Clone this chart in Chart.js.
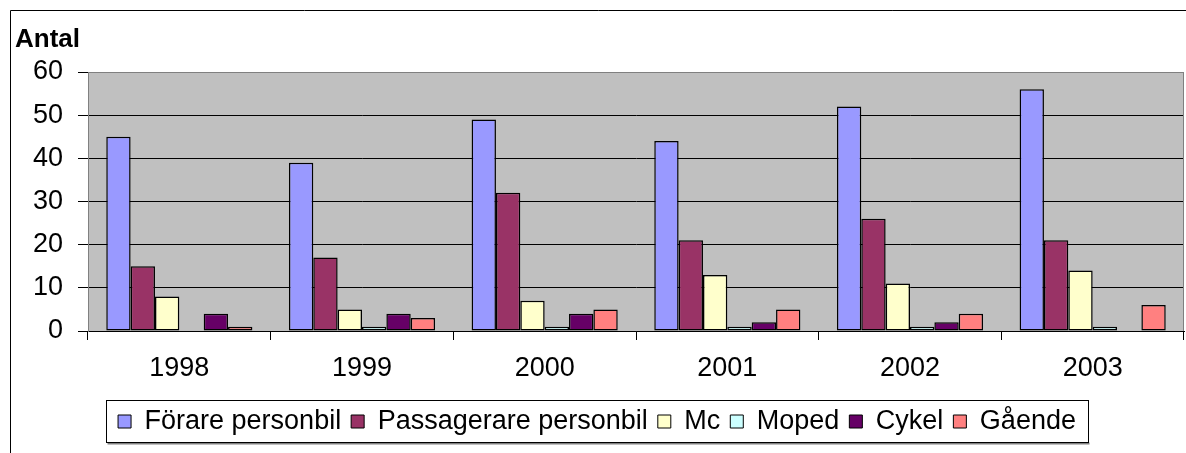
<!DOCTYPE html>
<html>
<head>
<meta charset="utf-8">
<script src="https://cdn.jsdelivr.net/npm/chart.js@4.4.1/dist/chart.umd.min.js"></script>
<style>
  html, body { margin: 0; padding: 0; background: #fff; }
  #wrap { width: 1186px; height: 453px; }
</style>
</head>
<body>
<div id="wrap"><canvas id="chart" width="1186" height="453"></canvas></div>
<script>
// ---- data ----
const years = ['1998', '1999', '2000', '2001', '2002', '2003'];
const forarePersonbil = [45, 39, 49, 44, 52, 56];
const passagerarePersonbil = [15, 17, 32, 21, 26, 21];
const mc = [8, 5, 7, 13, 11, 14];
const moped = [0, 1, 1, 1, 1, 1];
const cykel = [4, 4, 4, 2, 2, 0];
const gaende = [1, 3, 5, 5, 4, 6];
const yTicks = [0, 10, 20, 30, 40, 50, 60];

const FONT = "'Liberation Sans', Arial, sans-serif";
Chart.defaults.font.family = FONT;
Chart.defaults.color = '#000';

// bakgrund, ram och "Antal"
const frame = {
  id: 'frame',
  beforeDraw(chart) {
    const c = chart.ctx, a = chart.chartArea;
    c.save();
    c.fillStyle = '#fff';
    c.fillRect(0, 0, chart.width, chart.height);
    c.strokeStyle = '#000';
    c.lineWidth = 1;
    c.beginPath();
    c.moveTo(10.5, chart.height + 2);
    c.lineTo(10.5, 10.5);
    c.lineTo(chart.width + 2, 10.5);
    c.stroke();
    c.fillStyle = '#C0C0C0';
    c.fillRect(a.left, a.top, a.right - a.left, a.bottom - a.top);
    c.fillStyle = '#000';
    c.font = 'bold 26px ' + FONT;
    c.textBaseline = 'alphabetic';
    c.fillText('Antal', 15, 47);
    c.restore();
  },
  afterDraw(chart) {
    const c = chart.ctx, a = chart.chartArea;
    c.save();
    c.strokeStyle = '#808080';
    c.lineWidth = 1;
    c.beginPath();
    c.moveTo(a.left, Math.round(a.top) + 0.5);
    c.lineTo(Math.round(a.right) - 0.5, Math.round(a.top) + 0.5);
    c.lineTo(Math.round(a.right) - 0.5, a.bottom);
    c.stroke();
    // ram runt förklaringen
    const hb = chart.legend.legendHitBoxes;
    if (hb && hb.length) {
      const first = hb[0], last = hb[hb.length - 1];
      const x1 = Math.round(first.left - 12) + 0.5;
      const x2 = Math.round(last.left + last.width + 12) + 0.5;
      const y1 = Math.round(first.top - 8) + 0.5;
      const y2 = Math.round(first.top + first.height + 7) + 0.5;
      c.fillStyle = '#808080';
      c.fillRect(x1 + 1, y2, x2 - x1, 2);
      c.strokeStyle = '#000';
      c.strokeRect(x1, y1, x2 - x1, y2 - y1);
    }
    c.restore();
  }
};

const ds = (label, data, color) => ({
  label, data,
  backgroundColor: color,
  borderColor: '#000',
  borderWidth: 1.5,
  borderSkipped: false,
  categoryPercentage: 0.8,
  barPercentage: 1.0
});

new Chart(document.getElementById('chart'), {
  type: 'bar',
  data: {
    labels: years,
    datasets: [
      ds('Förare personbil', forarePersonbil, '#9999FF'),
      ds('Passagerare personbil', passagerarePersonbil, '#993366'),
      ds('Mc', mc, '#FFFFCC'),
      ds('Moped', moped, '#CCFFFF'),
      ds('Cykel', cykel, '#660066'),
      ds('Gående', gaende, '#FF8080')
    ]
  },
  options: {
    responsive: false,
    animation: false,
    layout: { padding: { left: 10, right: 2, top: 72, bottom: 8 } },
    plugins: {
      title: { display: false },
      tooltip: { enabled: false },
      legend: {
        position: 'bottom',
        labels: {
          font: { size: 27 },
          color: '#000',
          boxWidth: 13,
          boxHeight: 13,
          padding: 10,
          generateLabels: chart => Chart.defaults.plugins.legend.labels.generateLabels(chart)
            .map(l => Object.assign(l, { lineWidth: 1 }))
        }
      }
    },
    scales: {
      x: {
        grid: {
          offset: true,
          drawOnChartArea: false,
          drawTicks: true,
          tickLength: 9,
          color: '#000'
        },
        border: { color: '#000' },
        ticks: { font: { size: 27 }, color: '#000', padding: 12, maxRotation: 0 },
        afterFit: s => { s.height = 67; }
      },
      y: {
        min: 0,
        max: 60,
        afterBuildTicks: s => { s.ticks = yTicks.map(v => ({ value: v })); },
        grid: {
          color: c => (c.tick && c.tick.value === 60 ? '#808080' : '#000'),
          tickColor: '#000',
          tickLength: 10,
          lineWidth: 1
        },
        border: { color: '#808080' },
        ticks: { font: { size: 27 }, color: '#000', padding: 15 },
        afterFit: s => { s.width = 78; }
      }
    }
  },
  plugins: [frame]
});
</script>
</body>
</html>
